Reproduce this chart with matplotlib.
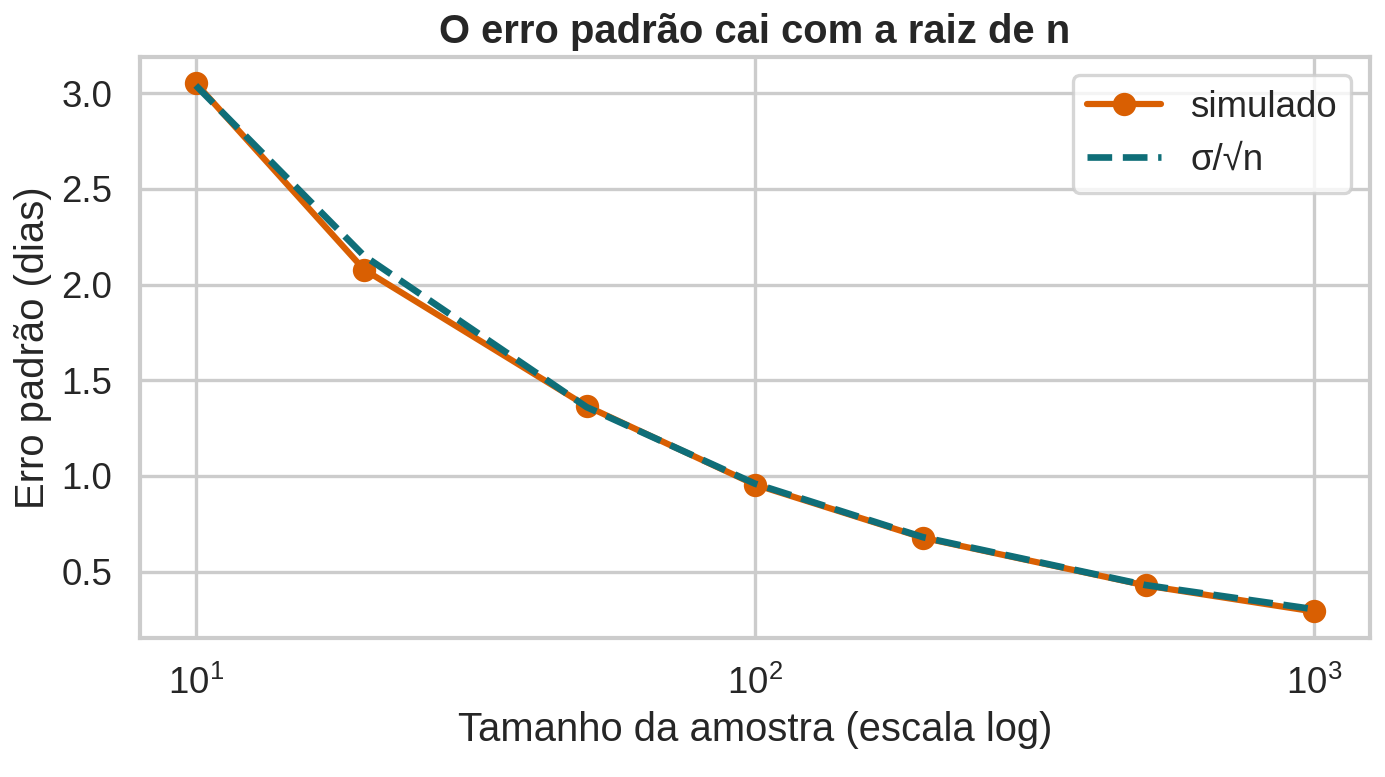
import matplotlib
matplotlib.use("Agg")
import matplotlib.pyplot as plt
from matplotlib.ticker import MultipleLocator
import seaborn as sns

n_values = [10, 20, 50, 100, 200, 500, 1000]
simulado = [3.052, 2.078, 1.365, 0.955, 0.677, 0.428, 0.292]
teorico = [3.04, 2.15, 1.36, 0.96, 0.68, 0.43, 0.304]

sns.set_theme(context="talk", style="whitegrid")
plt.rcParams["font.family"] = ["Liberation Sans", "DejaVu Sans"]

fig, ax = plt.subplots(figsize=(1385 / 160, 777 / 160), dpi=160)
fig.subplots_adjust(left=0.101, right=0.989, top=0.927, bottom=0.179)

ax.plot(n_values, simulado, "o-", color="#D95F02", lw=2.8, ms=9.5,
        label="simulado", zorder=2)
ax.plot(n_values, teorico, "--", color="#0F6E78", lw=3.0, label="σ/√n", zorder=3)
ax.set_xscale("log")
ax.yaxis.set_major_locator(MultipleLocator(0.5))
ax.set_xlabel("Tamanho da amostra (escala log)")
ax.set_ylabel("Erro padrão (dias)")
ax.set_title("O erro padrão cai com a raiz de n", fontweight="bold")
ax.legend(loc="upper right")

fig.savefig("out.png", dpi=160)
